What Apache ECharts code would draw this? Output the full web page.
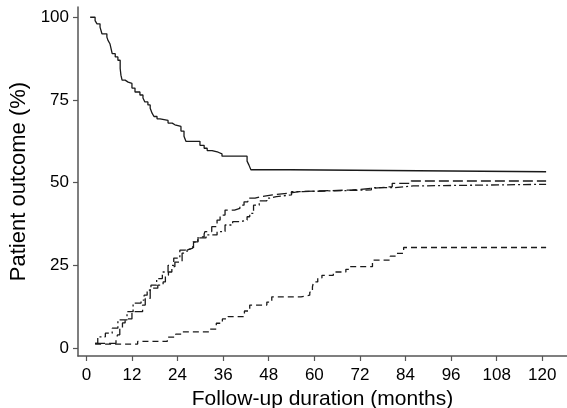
<!DOCTYPE html>
<html>
<head>
<meta charset="utf-8">
<script src="https://cdn.jsdelivr.net/npm/echarts@6/dist/echarts.min.js"></script>
<style>html,body{margin:0;padding:0;background:#fff}#c{width:567px;height:408px}</style>
</head>
<body>
<div id="c"></div>
<script>
// Tick labels
const xTicks = [0, 12, 24, 36, 48, 60, 72, 84, 96, 108, 120];
const yTicks = [0, 25, 50, 75, 100];

// Solid curve: [month, %]
const solidCurve = [[1,100],[2.3,99],[2.8,98],[3.6,97],[4.1,95],[5.4,94],[5.7,93],[6.2,92],[6.5,90.5],[6.8,89],[7.6,88],[8.3,87],[8.9,84.5],[9.1,82.5],[9.4,81],[10.2,80.4],[11,80],[12,78.6],[12.8,77.4],[14.1,76.5],[14.9,75.6],[15.4,74.4],[16.2,73.5],[16.8,72.5],[17.3,71],[17.8,70],[18.6,69.3],[19.4,68.8],[21.5,68],[22.6,67.5],[23.3,67],[24.9,65.6],[25.7,64],[26.2,62.5],[29.9,61.3],[31,60.4],[31.8,59.7],[33.1,59.2],[34.7,58.7],[35.7,58],[42.3,56.5],[42.8,55.3],[43.3,53.9],[53.6,53.3],[121,53.3]];

// Long-dash curve
const longDashCurve = [[2.3,1.4],[7.8,2.5],[8.2,4],[8.8,6],[9.5,7.6],[10.2,8.8],[12,11],[14.8,13],[15.5,15],[16.8,18.1],[18.8,19],[20.2,20],[20.8,22],[21.6,23],[22.5,24.6],[23.3,26],[25.2,28.7],[26.5,29.6],[27,30.2],[28,30.6],[28.1,32.1],[29.4,33.6],[31,34.5],[31.2,35.2],[33,36.7],[34.4,38.7],[35.2,40.2],[36.5,41.7],[39,42.2],[40.4,43.2],[41.5,44.2],[42.5,45.3],[44.4,45.8],[46,46.3],[49,46.8],[53,47.3],[56,47.8],[70,48.3],[75.5,48.8],[80.5,49.8],[85.5,50.5],[121,50.5]];

// Dash-dot curve
const dashDotCurve = [[2.3,1.4],[3,3.4],[5,4.5],[6.8,6.0],[8.3,8.5],[10.7,11],[12.3,13.6],[14.4,14.5],[15.2,16],[16,17.5],[17,19],[18.5,21],[20,23],[21.5,25],[23,27.2],[24.6,29.6],[26,30.2],[28.2,32],[29.3,33.3],[31.5,34.2],[34.4,35.2],[36.5,37.2],[38.5,38.2],[40.5,38.7],[42.3,39.7],[43,40.7],[44,43.2],[45.5,44.5],[47.5,45.3],[48.3,45.8],[50,46.3],[54,47.3],[57,47.8],[75,48.5],[81,49],[86,49.5],[121,49.5]];

// Short-dash curve
const shortDashCurve = [[2.3,1.2],[13.5,2.0],[21.3,3.3],[23.5,4.2],[25.3,4.9],[32.3,5.7],[34.2,7.5],[35.8,8.8],[37.3,9.5],[41.6,11.2],[43,13],[47.5,13.9],[48.8,15.5],[56.5,16.0],[58.8,16.9],[59.5,18.5],[59.8,20],[60.9,21.2],[62,22],[65,23],[68.3,23.8],[69.2,24.6],[75.3,26.6],[80,27.8],[81.5,28.6],[83.5,30.4],[121,30.4]];

const chart = echarts.init(document.getElementById('c'), null, {renderer: 'canvas'});
const lineColor = '#1a1a1a';
function mk(data, type) {
  return {
    type: 'line', data: data, step: 'end', showSymbol: false, symbol: 'none',
    lineStyle: {color: lineColor, width: 1.3, type: type},
    animation: false, silent: true
  };
}
const axisCol = '#555';
const font = 'Liberation Sans, Arial, sans-serif';
chart.setOption({
  animation: false,
  grid: {left: 78, right: 0, top: 7, bottom: 52, containLabel: false, outerBoundsMode: 'none'},
  xAxis: {
    type: 'value', min: -2.2, max: 126.5,
    name: 'Follow-up duration (months)', nameLocation: 'middle', nameGap: 28,
    nameTextStyle: {fontFamily: font, fontSize: 21, color: '#000'},
    axisLine: {onZero: false, lineStyle: {color: axisCol, width: 1.5}},
    axisTick: {show: true, length: 5, customValues: xTicks, lineStyle: {color: axisCol, width: 1.2}},
    axisLabel: {customValues: xTicks, margin: 11, fontFamily: font, fontSize: 17, color: '#000'},
    splitLine: {show: false}
  },
  yAxis: {
    type: 'value', min: -2.4, max: 103.1,
    name: 'Patient outcome (%)', nameLocation: 'middle', nameGap: 48,
    nameTextStyle: {fontFamily: font, fontSize: 22, color: '#000'},
    axisLine: {show: true, onZero: false, lineStyle: {color: axisCol, width: 1.5}},
    axisTick: {show: true, length: 5, customValues: yTicks, lineStyle: {color: axisCol, width: 1.2}},
    axisLabel: {customValues: yTicks, margin: 9, fontFamily: font, fontSize: 17, color: '#000'},
    splitLine: {show: false}
  },
  series: [
    mk(solidCurve, 'solid'),
    mk(longDashCurve, [10, 4]),
    mk(dashDotCurve, [8, 3, 2, 3]),
    mk(shortDashCurve, [6, 4])
  ]
});
</script>
</body>
</html>
